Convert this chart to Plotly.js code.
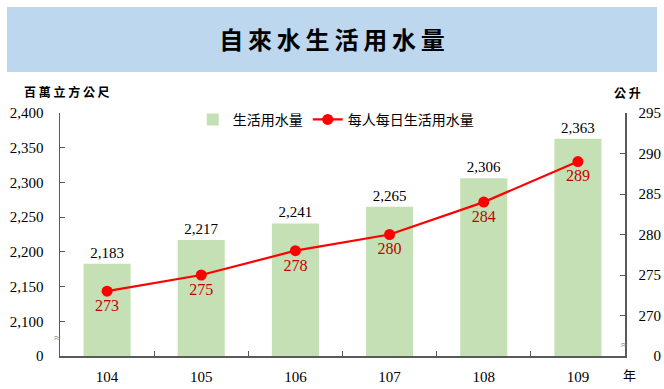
<!DOCTYPE html>
<html>
<head>
<meta charset="utf-8">
<script src="https://cdn.plot.ly/plotly-3.0.1.min.js"></script>
<style>html,body{margin:0;padding:0;background:#fff;}#chart{width:664px;height:389px;}</style>
</head>
<body>
<div id="chart"></div>
<script>
const years = ['104', '105', '106', '107', '108', '109'];
const waterUse = [2183, 2217, 2241, 2265, 2306, 2363];
const perCapita = [273, 275, 278, 280, 284, 289];
const leftTickVals = [2050, 2100, 2150, 2200, 2250, 2300, 2350, 2400];
const leftTickText = ['0', '2,100', '2,150', '2,200', '2,250', '2,300', '2,350', '2,400'];
const rightTickVals = [265, 270, 275, 280, 285, 290, 295];
const rightTickText = ['\u2007\u20070', '270', '275', '280', '285', '290', '295'];

const serif = 'Liberation Serif, Times New Roman, serif';
const cjk = 'Noto Sans CJK TC, Noto Sans CJK SC, sans-serif';
const axisColor = '#595959';

const traces = [
  {
    type: 'bar', name: '生活用水量', x: years, y: waterUse,
    marker: {color: '#c5e0b4'}, width: 0.5,
    text: waterUse.map(v => v.toLocaleString('en-US')),
    textposition: 'outside', cliponaxis: false,
    textfont: {family: serif, size: 15, color: '#000'},
    hoverinfo: 'none'
  },
  {
    type: 'scatter', mode: 'lines+markers+text', name: '每人每日生活用水量',
    x: years, y: perCapita, yaxis: 'y2',
    line: {color: '#ff0000', width: 2.2},
    marker: {color: '#ff0000', size: 11},
    text: perCapita.map(String), textposition: 'bottom center',
    textfont: {family: serif, size: 16, color: '#c00000'},
    cliponaxis: false, hoverinfo: 'none'
  }
];

const layout = {
  width: 664, height: 389,
  margin: {l: 60, r: 39, t: 113, b: 33, pad: 0},
  paper_bgcolor: '#fff', plot_bgcolor: '#fff',
  showlegend: true,
  bargap: 0.5,
  title: {text: '自\u2009來\u2009水\u2009生\u2009活\u2009用\u2009水\u2009量', font: {family: cjk, size: 24, color: '#000', weight: 'bold'}, x: 0.5, xanchor: 'center', xref: 'container', y: 1 - 41/389, yanchor: 'middle'},
  legend: {orientation: 'h', x: 0.235, y: 0.972, xanchor: 'left', yanchor: 'middle', font: {family: cjk, size: 14, color: '#000'}, bgcolor: 'rgba(0,0,0,0)', itemwidth: 30, tracegroupgap: 0},
  xaxis: {
    type: 'category', showgrid: false, zeroline: false,
    showline: true, linecolor: axisColor, linewidth: 1.5,
    ticks: 'inside', tickson: 'boundaries', ticklen: 5, tickcolor: axisColor, tickwidth: 1,
    tickfont: {family: serif, size: 15, color: '#000'}, ticklabelstandoff: 6
  },
  yaxis: {
    range: [2050, 2400], tickvals: leftTickVals, ticktext: leftTickText,
    showgrid: false, zeroline: false,
    showline: true, linecolor: axisColor, linewidth: 1.5,
    ticks: 'inside', ticklen: 5, tickcolor: axisColor, tickwidth: 1,
    tickfont: {family: serif, size: 15, color: '#000'}, ticklabelstandoff: 12
  },
  yaxis2: {
    overlaying: 'y', side: 'right', anchor: 'x',
    range: [265, 295], tickvals: rightTickVals, ticktext: rightTickText,
    showgrid: false, zeroline: false,
    showline: true, linecolor: axisColor, linewidth: 1.5,
    ticks: 'inside', ticklen: 5, tickcolor: axisColor, tickwidth: 1,
    tickfont: {family: serif, size: 15, color: '#000'}, ticklabelstandoff: 9
  },
  shapes: [
    {type: 'rect', xref: 'paper', yref: 'paper', x0: (7-60)/565, x1: (657-60)/565, y0: (356-72)/243, y1: (356-7)/243, fillcolor: '#bdd7ee', line: {width: 0}, layer: 'below'}
  ],
  annotations: [
    {xref: 'paper', yref: 'paper', x: (67-60)/565, y: (356-91)/243, text: '百 萬 立 方 公 尺', showarrow: false, font: {family: cjk, size: 12, color: '#000', weight: 'bold'}, xanchor: 'center', yanchor: 'middle'},
    {xref: 'paper', yref: 'paper', x: (627-60)/565, y: (356-93)/243, text: '公 升', showarrow: false, font: {family: cjk, size: 12, color: '#000', weight: 'bold'}, xanchor: 'center', yanchor: 'middle'},
    {xref: 'paper', yref: 'paper', x: (629-60)/565, y: (356-374)/243, text: '年', showarrow: false, font: {family: cjk, size: 13, color: '#000'}, xanchor: 'center', yanchor: 'middle'},
    {xref: 'paper', yref: 'paper', x: (57-60)/565, y: (356-338)/243, text: '≈', showarrow: false, font: {family: serif, size: 12, color: '#808080'}, xanchor: 'center', yanchor: 'middle'},
    {xref: 'paper', yref: 'paper', x: (624-60)/565, y: (356-345)/243, text: '≈', showarrow: false, font: {family: serif, size: 12, color: '#808080'}, xanchor: 'center', yanchor: 'middle'}
  ]
};

Plotly.newPlot('chart', traces, layout, {displayModeBar: false, staticPlot: true});
</script>
</body>
</html>
